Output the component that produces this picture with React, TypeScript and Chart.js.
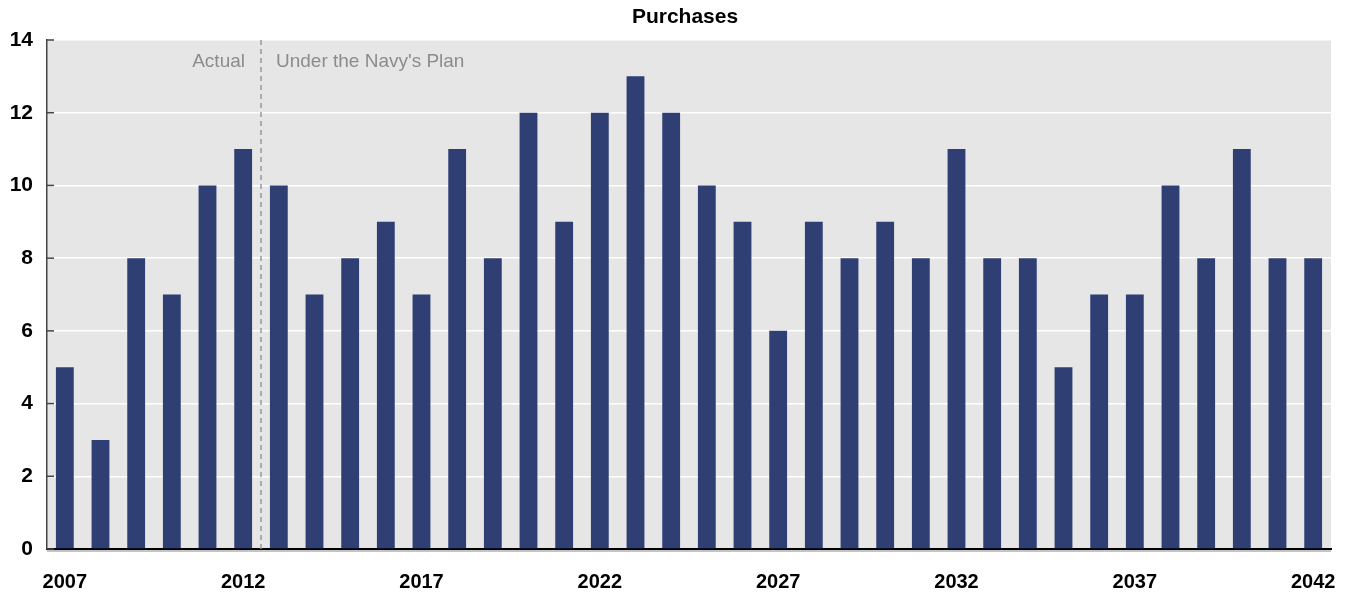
import React, { useEffect, useRef } from "react";
import { Chart, registerables } from "chart.js";

Chart.register(...registerables);

const years: string[] = [
  "2007", "2008", "2009", "2010", "2011", "2012", "2013", "2014", "2015", "2016",
  "2017", "2018", "2019", "2020", "2021", "2022", "2023", "2024", "2025", "2026",
  "2027", "2028", "2029", "2030", "2031", "2032", "2033", "2034", "2035", "2036",
  "2037", "2038", "2039", "2040", "2041", "2042",
];
const purchases: number[] = [
  5, 3, 8, 7, 10, 11, 10, 7, 8, 9,
  7, 11, 8, 12, 9, 12, 13, 12, 10, 9,
  6, 9, 8, 9, 8, 11, 8, 8, 5, 7,
  7, 10, 8, 11, 8, 8,
];
const labeledYears: string[] = ["2007", "2012", "2017", "2022", "2027", "2032", "2037", "2042"];
const chartTitle = "Purchases";
const leftNote = "Actual";
const rightNote = "Under the Navy's Plan";
const dividerAfter = "2012";

const FONT = "'Liberation Sans', Arial, sans-serif";

const decorPlugin = {
  id: "decor",
  beforeDraw(chart: any) {
    const { ctx, chartArea } = chart;
    ctx.save();
    ctx.fillStyle = "#e6e6e6";
    ctx.fillRect(chartArea.left, chartArea.top, chartArea.right - chartArea.left, chartArea.bottom - chartArea.top);
    ctx.restore();
  },
  afterDraw(chart: any) {
    const { ctx, chartArea } = chart;
    const xs = chart.scales.x;
    const ys = chart.scales.y;
    const idx = years.indexOf(dividerAfter);
    const xd = (xs.getPixelForValue(idx) + xs.getPixelForValue(idx + 1)) / 2;
    ctx.save();
    // title centred over the plot area
    ctx.fillStyle = "#000000";
    ctx.font = `bold 21px ${FONT}`;
    ctx.textAlign = "center";
    ctx.textBaseline = "middle";
    ctx.fillText(chartTitle, (chartArea.left + chartArea.right) / 2 - 4, 17);
    // dashed divider
    ctx.strokeStyle = "#999999";
    ctx.lineWidth = 1.5;
    ctx.setLineDash([5, 4]);
    ctx.beginPath();
    ctx.moveTo(xd, chartArea.top);
    ctx.lineTo(xd, chartArea.bottom);
    ctx.stroke();
    ctx.setLineDash([]);
    // notes
    ctx.fillStyle = "#8c8c8c";
    ctx.font = `19px ${FONT}`;
    ctx.textBaseline = "middle";
    ctx.textAlign = "right";
    ctx.fillText(leftNote, xd - 16, chartArea.top + 22);
    ctx.textAlign = "left";
    ctx.fillText(rightNote, xd + 15, chartArea.top + 22);
    // inner ticks on y axis
    ctx.strokeStyle = "#444444";
    ctx.lineWidth = 1.5;
    ys.ticks.forEach((t: any) => {
      const y = ys.getPixelForValue(t.value);
      ctx.beginPath();
      ctx.moveTo(chartArea.left, y);
      ctx.lineTo(chartArea.left + 7, y);
      ctx.stroke();
    });
    // shadow under x axis
    ctx.strokeStyle = "#c4c4c4";
    ctx.lineWidth = 2;
    ctx.beginPath();
    ctx.moveTo(chartArea.left, chartArea.bottom + 2);
    ctx.lineTo(chartArea.right, chartArea.bottom + 2);
    ctx.stroke();
    ctx.restore();
  },
};

export default function App() {
  const canvasRef = useRef<HTMLCanvasElement | null>(null);

  useEffect(() => {
    document.body.style.margin = "0";
    const canvas = canvasRef.current;
    if (!canvas) return;
    const chart = new Chart(canvas, {
      type: "bar",
      data: {
        labels: years,
        datasets: [
          {
            label: chartTitle,
            data: purchases,
            backgroundColor: "#2f3f73",
            borderWidth: 0,
            barPercentage: 0.5,
            categoryPercentage: 1.0,
          },
        ],
      },
      options: {
        animation: false,
        responsive: false,
        maintainAspectRatio: false,
        layout: { padding: { left: 0, right: 19, top: 40, bottom: 0 } },
        plugins: {
          legend: { display: false },
          tooltip: { enabled: false },
          title: { display: false },
        },
        scales: {
          x: {
            offset: true,
            grid: { display: false, drawTicks: false },
            border: { display: true, color: "#000000", width: 2 },
            ticks: {
              autoSkip: false,
              maxRotation: 0,
              minRotation: 0,
              padding: 21,
              color: "#000000",
              font: { family: FONT, size: 20, weight: "bold" },
              callback: function (this: any, value: any) {
                const lab = years[value as number];
                return labeledYears.includes(lab) ? lab : "";
              },
            },
            afterFit: (scale: any) => {
              scale.height = 49;
              scale.paddingLeft = 0;
              scale.paddingRight = 0;
            },
          },
          y: {
            min: 0,
            max: 14,
            grid: { color: "#ffffff", lineWidth: 1.5, drawTicks: false },
            border: { display: true, color: "#444444", width: 1.5 },
            ticks: {
              stepSize: 2,
              padding: 14,
              color: "#000000",
              font: { family: FONT, size: 21, weight: "bold" },
            },
            afterFit: (scale: any) => {
              scale.width = 47;
            },
          },
        },
      },
      plugins: [decorPlugin],
    });
    return () => chart.destroy();
  }, []);

  return (
    <div style={{ width: 1350, height: 598, position: "relative" }}>
      <canvas ref={canvasRef} width={1350} height={598} style={{ width: 1350, height: 598, display: "block" }} />
    </div>
  );
}
